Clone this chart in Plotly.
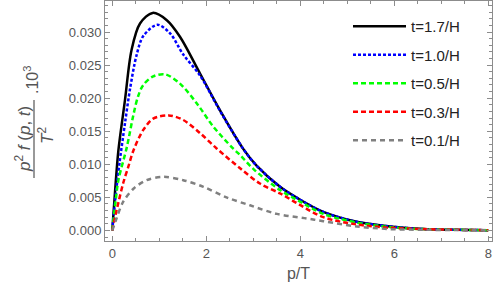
import plotly.graph_objects as go

# ---- data ----
p_t17 = [0, 0.06, 0.13, 0.27, 0.41, 0.59, 0.86, 1.16, 1.44, 1.87, 2.29, 2.79, 3.07, 3.57, 3.96, 4.49, 5.2, 5.91, 6.62, 7.3, 8]
v_t17 = [0, 0.0060, 0.0121, 0.0197, 0.0273, 0.0313, 0.0329, 0.0318, 0.0293, 0.0237, 0.0182, 0.0123, 0.0098, 0.0066, 0.0048, 0.0028, 0.0013, 0.0006, 0.0002, 0.0001, 0.00003]

p_t10 = [0, 0.08, 0.15, 0.27, 0.38, 0.52, 0.66, 0.96, 1.23, 1.51, 1.87, 2.29, 2.79, 3.07, 3.57, 3.96, 4.49, 5.2, 5.91, 6.62, 7.3, 8]
v_t10 = [0, 0.0058, 0.0100, 0.0162, 0.0215, 0.0266, 0.0294, 0.0311, 0.0298, 0.0266, 0.0234, 0.0181, 0.0123, 0.0098, 0.0066, 0.0048, 0.0028, 0.0013, 0.0006, 0.0002, 0.0001, 0.00003]

p_t05 = [0, 0.08, 0.13, 0.31, 0.45, 0.55, 0.66, 0.87, 1.13, 1.44, 1.80, 2.15, 2.57, 2.72, 3.0, 3.57, 3.96, 4.49, 5.2, 5.91, 6.62, 7.3, 8]
v_t05 = [0, 0.0050, 0.0076, 0.0126, 0.0175, 0.0203, 0.0220, 0.0233, 0.0236, 0.0222, 0.0192, 0.0157, 0.0124, 0.0114, 0.0093, 0.0061, 0.0045, 0.0025, 0.0012, 0.0005, 0.0002, 0.0001, 0.00003]

p_t03 = [0, 0.09, 0.14, 0.23, 0.34, 0.45, 0.66, 0.87, 1.2, 1.51, 1.87, 2.22, 2.72, 3.14, 3.57, 3.96, 4.49, 5.2, 5.91, 6.62, 7.3, 8]
v_t03 = [0, 0.0030, 0.0045, 0.0071, 0.0096, 0.0121, 0.0152, 0.0169, 0.0174, 0.0167, 0.0147, 0.0124, 0.0094, 0.0071, 0.0056, 0.0040, 0.0020, 0.0009, 0.0004, 0.0002, 0.0001, 0.00003]

p_t01 = [0, 0.09, 0.23, 0.45, 0.73, 1.09, 1.51, 1.94, 2.43, 2.93, 3.5, 4.14, 4.49, 5.2, 5.91, 6.62, 7.3, 8]
v_t01 = [0, 0.0018, 0.0043, 0.0063, 0.0076, 0.0081, 0.0076, 0.0066, 0.0050, 0.0038, 0.0025, 0.0018, 0.0014, 0.0006, 0.0002, 0.0001, 0.00005, 0.00002]

names = ["t=1.7/H", "t=1.0/H", "t=0.5/H", "t=0.3/H", "t=0.1/H"]
xs = [p_t17, p_t10, p_t05, p_t03, p_t01]
ys = [v_t17, v_t10, v_t05, v_t03, v_t01]
colors = ["#000000", "#0000FF", "#00FF00", "#FF0000", "#808080"]
dashes = ["solid", "3px,2px", "5px,3px", "5px,3px", "5px,4px"]

x_ticks = [0, 2, 4, 6, 8]
y_ticks = [0.000, 0.005, 0.010, 0.015, 0.020, 0.025, 0.030]

W, H = 498, 300
L, R, T, B = 105, 6, 1, 59
pw, ph = W - L - R, H - T - B

def fx(px):
    return (px - L) / pw

def fy(py):
    return (H - B - py) / ph

fig = go.Figure()
for i, (n, x, y, c, d) in enumerate(zip(names, xs, ys, colors, dashes)):
    fig.add_trace(go.Scatter(
        x=x, y=y, mode="lines", name=n, legendgroup=n,
        line=dict(color=c, width=2.5, dash=d, shape="spline", smoothing=0.9),
    ))

axis_col = "#8c8c8c"
lab_col = "#555555"
font_family = "Liberation Sans, Arial, sans-serif"

fig.update_layout(
    width=W, height=H,
    margin=dict(l=L, r=R, t=T, b=B),
    paper_bgcolor="white", plot_bgcolor="white",
    font=dict(family=font_family, color=lab_col, size=13),
    showlegend=True,
    legend=dict(
        x=fx(348), y=fy(10), xanchor="left", yanchor="top",
        bgcolor="rgba(0,0,0,0)", font=dict(size=15, color="#222222"),
        tracegroupgap=6, itemwidth=53,
    ),
    xaxis=dict(
        range=[-0.155, 8.08], tickvals=x_ticks, ticks="inside", ticklen=5,
        tickcolor=axis_col, showline=True, linecolor=axis_col, linewidth=1,
        mirror="ticks", showgrid=False, zeroline=False,
        minor=dict(dtick=0.5, ticks="inside", ticklen=3, tickcolor=axis_col, showgrid=False),
        tickfont=dict(size=13, color=lab_col),
        title=dict(text="p/T", font=dict(size=16, color=lab_col), standoff=8),
    ),
    yaxis=dict(
        range=[-0.0016, 0.0347], tickvals=y_ticks, tickformat=".3f", ticks="inside", ticklen=5,
        tickcolor=axis_col, showline=True, linecolor=axis_col, linewidth=1,
        mirror="ticks", showgrid=False, zeroline=False,
        minor=dict(dtick=0.001, ticks="inside", ticklen=3, tickcolor=axis_col, showgrid=False),
        tickfont=dict(size=13, color=lab_col),
    ),
)

# y-axis title drawn as a rotated fraction
fig.add_annotation(text="<i>p</i><sup>2</sup> <i>f</i> (<i>p</i>, <i>t</i>)", textangle=-90,
                   xref="paper", yref="paper", x=fx(23), y=fy(139), showarrow=False,
                   xanchor="center", yanchor="middle", font=dict(size=17, color=lab_col))
fig.add_annotation(text="<i>T</i><sup>2</sup>", textangle=-90,
                   xref="paper", yref="paper", x=fx(46), y=fy(136), showarrow=False,
                   xanchor="center", yanchor="middle", font=dict(size=17, color=lab_col))
fig.add_annotation(text=".10<sup>3</sup>", textangle=-90,
                   xref="paper", yref="paper", x=fx(31), y=fy(80), showarrow=False,
                   xanchor="center", yanchor="middle", font=dict(size=16, color=lab_col))
fig.add_shape(type="line", xref="paper", yref="paper",
              x0=fx(34), x1=fx(34), y0=fy(100), y1=fy(178),
              line=dict(color=lab_col, width=1.2))

fig.write_html("out.html", config={"displayModeBar": False},
               post_script="document.body.style.margin='0';document.body.style.overflow='hidden';")
